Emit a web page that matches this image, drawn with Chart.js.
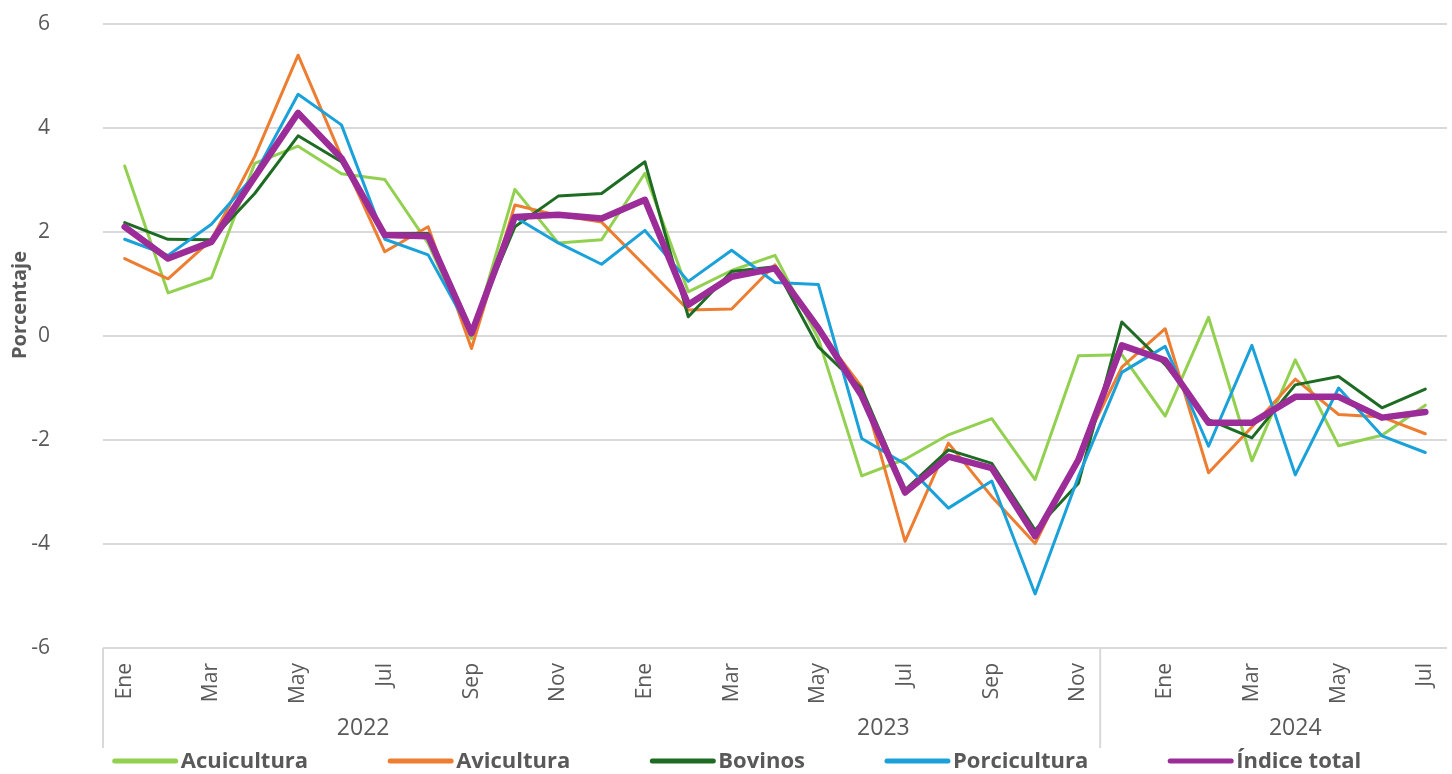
<!DOCTYPE html>
<html lang="es">
  <head>
    <meta charset="UTF-8" />
    <meta name="viewport" content="width=device-width, initial-scale=1.0" />
    <title>Variación porcentual por sector</title>
    <script src="https://cdn.jsdelivr.net/npm/chart.js@4.4.1/dist/chart.umd.min.js"></script>
    <style>
      html, body { margin: 0; padding: 0; background: #fff; }
    </style>
  </head>
  <body>
    <canvas id="chart" width="1452" height="774"></canvas>
    <script>
      var months = ['Ene', 'Feb', 'Mar', 'Abr', 'May', 'Jun', 'Jul', 'Ago', 'Sep', 'Oct', 'Nov', 'Dic'];
      var labels = months.concat(months, months.slice(0, 7));
      var years = ['2022', '2023', '2024'];
      var yearCounts = [12, 12, 7];

      var acuicultura = [3.27, 0.83, 1.12, 3.32, 3.65, 3.12, 3.01, 1.78, -0.05, 2.82, 1.79, 1.85, 3.13, 0.85, 1.26, 1.55, -0.05, -2.69, -2.37, -1.90, -1.59, -2.76, -0.38, -0.36, -1.54, 0.36, -2.40, -0.46, -2.11, -1.91, -1.33];
      var avicultura = [1.49, 1.10, 1.85, 3.45, 5.40, 3.45, 1.62, 2.10, -0.24, 2.52, 2.32, 2.19, 1.35, 0.50, 0.52, 1.37, 0.12, -0.98, -3.95, -2.06, -3.09, -3.99, -2.30, -0.60, 0.14, -2.63, -1.75, -0.83, -1.51, -1.56, -1.88];
      var bovinos = [2.18, 1.86, 1.85, 2.74, 3.85, 3.35, 1.97, 1.97, 0.12, 2.10, 2.69, 2.74, 3.35, 0.37, 1.24, 1.33, -0.21, -1.01, -2.96, -2.19, -2.45, -3.73, -2.83, 0.27, -0.55, -1.61, -1.96, -0.94, -0.78, -1.38, -1.02];
      var porcicultura = [1.86, 1.55, 2.15, 3.10, 4.65, 4.06, 1.86, 1.56, 0.05, 2.29, 1.79, 1.38, 2.03, 1.05, 1.65, 1.03, 0.99, -1.97, -2.46, -3.31, -2.79, -4.96, -2.70, -0.70, -0.20, -2.12, -0.18, -2.67, -1.00, -1.92, -2.24];
      var indiceTotal = [2.10, 1.49, 1.81, 3.06, 4.29, 3.42, 1.94, 1.92, 0.05, 2.29, 2.33, 2.26, 2.62, 0.60, 1.14, 1.30, 0.15, -1.15, -3.01, -2.32, -2.54, -3.85, -2.38, -0.18, -0.47, -1.67, -1.67, -1.17, -1.17, -1.57, -1.46];

      var gray = '#595959';
      var font = "'Open Sans', sans-serif";
      var dividerAfter = 22; // separador de grupo bajo el eje

      function line(label, data, color, width, order) {
        return {
          label: label,
          data: data,
          borderColor: color,
          backgroundColor: color,
          borderWidth: width,
          pointRadius: 0,
          tension: 0,
          borderJoinStyle: 'round',
          borderCapStyle: 'round',
          order: order
        };
      }

      // ejes de categorias en dos niveles, titulo y leyenda
      var extras = {
        id: 'extras',
        afterDraw: function (chart) {
          var ctx = chart.ctx;
          var x = chart.scales.x;
          var area = chart.chartArea;
          ctx.save();

          ctx.strokeStyle = '#d9d9d9';
          ctx.lineWidth = 2;
          var divs = [area.left, (x.getPixelForValue(dividerAfter) + x.getPixelForValue(dividerAfter + 1)) / 2];
          divs.forEach(function (px) {
            ctx.beginPath();
            ctx.moveTo(px, area.bottom);
            ctx.lineTo(px, x.bottom);
            ctx.stroke();
          });

          ctx.fillStyle = gray;
          ctx.font = '23px ' + font;
          ctx.textAlign = 'center';
          ctx.textBaseline = 'middle';
          var start = 0;
          years.forEach(function (y, i) {
            var end = start + yearCounts[i] - 1;
            var cx = (x.getPixelForValue(start) + x.getPixelForValue(end)) / 2;
            ctx.fillText(y, cx, 728);
            start = end + 1;
          });

          ctx.save();
          ctx.translate(20, 305);
          ctx.rotate(-Math.PI / 2);
          ctx.font = 'bold 20px ' + font;
          ctx.fillText('Porcentaje', 0, 0);
          ctx.restore();

          // leyenda
          var sets = chart.data.datasets;
          ctx.font = 'bold 22px ' + font;
          ctx.textAlign = 'left';
          var lineLen = 65, gap = 3, spacing = 80;
          var widths = sets.map(function (d) { return lineLen + gap + ctx.measureText(d.label).width; });
          var total = widths.reduce(function (a, b) { return a + b; }, 0) + spacing * (sets.length - 1);
          var lx = 737 - total / 2;
          var ly = 761;
          ctx.lineWidth = 5;
          sets.forEach(function (d, i) {
            ctx.strokeStyle = d.borderColor;
            ctx.lineCap = 'round';
            ctx.beginPath();
            ctx.moveTo(lx + 2, ly);
            ctx.lineTo(lx + lineLen - 2, ly);
            ctx.stroke();
            ctx.fillStyle = gray;
            ctx.fillText(d.label, lx + lineLen + gap, ly + 1);
            lx += widths[i] + spacing;
          });
          ctx.restore();
        }
      };

      var chart = new Chart(document.getElementById('chart'), {
        type: 'line',
        data: {
          labels: labels,
          datasets: [
            line('Acuicultura', acuicultura, '#92d050', 3, 5),
            line('Avicultura', avicultura, '#ed7d31', 3, 4),
            line('Bovinos', bovinos, '#1e6b24', 3, 3),
            line('Porcicultura', porcicultura, '#1ba1d9', 3, 2),
            line('Índice total', indiceTotal, '#9b2c98', 6.5, 1)
          ]
        },
        options: {
          responsive: false,
          animation: false,
          layout: { padding: { top: 24, right: 5, bottom: 26, left: 0 } },
          plugins: {
            legend: { display: false },
            tooltip: { enabled: false }
          },
          scales: {
            x: {
              offset: true,
              grid: { display: false },
              border: { display: false },
              ticks: {
                autoSkip: false,
                minRotation: 90,
                maxRotation: 90,
                padding: 7,
                color: gray,
                font: { family: font, size: 21 },
                callback: function (v, i) {
                  return i % 2 === 0 ? this.getLabelForValue(v) : '';
                }
              },
              afterFit: function (scale) {
                scale.height = 100;
                scale.paddingRight = 0;
              }
            },
            y: {
              min: -6,
              max: 6,
              grid: { color: '#d9d9d9', lineWidth: 2, drawTicks: false },
              border: { display: false },
              ticks: {
                stepSize: 2,
                padding: 53,
                color: gray,
                font: { family: font, size: 21 }
              },
              afterFit: function (scale) {
                scale.width = 103;
                scale.paddingTop = 12;
                scale.paddingBottom = 12;
              }
            }
          }
        },
        plugins: [extras]
      });
    </script>
  </body>
</html>
